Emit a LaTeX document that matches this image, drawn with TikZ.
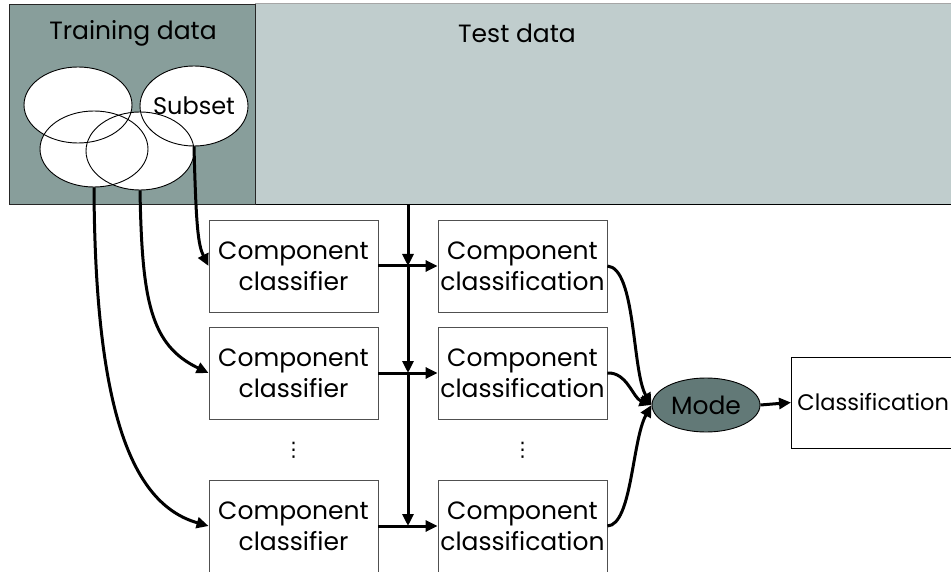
\documentclass[tikz,border=0pt]{standalone}
\usepackage{fontspec}
\setmainfont{Poppins}
\newfontfamily\symfont{DejaVu Sans}
\usetikzlibrary{arrows.meta,shapes.geometric,calc}
\definecolor{traincol}{RGB}{136,158,155}
\definecolor{testcol}{RGB}{192,205,205}
\definecolor{modecol}{RGB}{98,121,119}
\definecolor{edgegray}{RGB}{80,80,80}

\begin{document}
\begin{tikzpicture}[x=1pt,y=-1pt,
  lbl/.style={font=\fontsize{25}{31}\selectfont, text=black},
  box/.style={draw=edgegray, line width=0.9pt, fill=white, minimum width=169pt,
    minimum height=92pt, align=center, inner sep=0pt, lbl},
  blob/.style={ellipse, draw=black, line width=0.9pt, inner sep=0pt},
  flow/.style={line width=3pt, -{Triangle[length=12pt,width=11pt]}},
  dotsym/.style={font=\symfont\fontsize{20}{20}\selectfont},
]
\useasboundingbox (0,0) rectangle (951,572);

% data regions
\node[fill=testcol, draw=none, minimum width=705pt, minimum height=200pt,
      anchor=north west, inner sep=0pt] (test) at (255,4) {};
\draw[gray!70, line width=1pt] (test.north west) -- (test.north east);
\draw[black, line width=1.3pt] (test.south west) -- (test.south east);
\node[fill=traincol, draw=black!85, line width=1.3pt, minimum width=246pt,
      minimum height=200pt, anchor=north west, inner sep=0pt] (train) at (9,4) {};
\node[lbl] (traintitle) at (133,33) {Training data};
\node[lbl] (testtitle) at (517,33) {Test data};

% bootstrap subsets: white fills first, outlines on top
\fill[white] (78,105) ellipse [x radius=54, y radius=38];
\fill[white] (194,106) ellipse [x radius=54, y radius=40];
\fill[white] (94,149) ellipse [x radius=54, y radius=38];
\fill[white] (140,151) ellipse [x radius=54, y radius=39];
\node[blob, minimum width=108pt, minimum height=76pt] (e1) at (78,105) {};
\node[blob, minimum width=108pt, minimum height=80pt] (e2) at (194,106) {};
\node[blob, minimum width=108pt, minimum height=76pt] (e3) at (94,149) {};
\node[blob, minimum width=108pt, minimum height=78pt] (e4) at (140,151) {};
\node[lbl, font=\fontsize{24}{30}\selectfont] (subset) at (e2.center) {Subset};

% component classifiers and their outputs
\node[box] (c1) at (293.5,266) {Component\\classifier};
\node[box] (c2) at (293.5,373) {Component\\classifier};
\node[box] (c3) at (293.5,526) {Component\\classifier};
\node[box] (d1) at (522.5,266) {Component\\classification};
\node[box] (d2) at (522.5,373) {Component\\classification};
\node[box] (d3) at (522.5,526) {Component\\classification};
\node[dotsym] (v1) at (293.5,450) {⋮};
\node[dotsym] (v2) at (522.5,450) {⋮};

% voting and final result
\node[ellipse, fill=modecol, draw=black, line width=0.9pt, minimum width=108pt,
      minimum height=54pt, inner sep=0pt, lbl] (mode) at (706,405) {Mode};
\node[draw=black, line width=0.9pt, fill=white, minimum height=91pt, anchor=west,
      text width=200pt, align=left, inner xsep=6pt, lbl,
      font=\fontsize{22.5}{28}\selectfont] (cls) at (791,402.5) {Classification};

% test data feed
\coordinate (tap) at (408,204);
\coordinate (j1) at (tap |- c1.east);
\coordinate (j2) at (tap |- c2.east);
\coordinate (j3) at (tap |- c3.east);
\draw[flow] (tap) -- (j1);
\draw[flow] (j1) -- (j2);
\draw[flow] (j2) -- (j3);
\draw[flow] (c1.east) -- (d1.west);
\draw[flow] (c2.east) -- (d2.west);
\draw[flow] (c3.east) -- (d3.west);

% training subsets to classifiers
\draw[flow] (e2.south) .. controls (196,225) and (198,245) .. (c1.west);
\draw[flow] (e4.south) .. controls (142,300) and (150,345) .. (c2.west);
\draw[flow] (e3.south) .. controls (95,420) and (135,505) .. (c3.west);

% classifications to the vote
\draw[flow] (d1.east) .. controls (636,268) and (632,372) .. (mode.west);
\draw[flow] (d2.east) .. controls (627,372) and (633,398) .. (mode.west);
\draw[flow] (d3.east) .. controls (632,525) and (632,440) .. (mode.west);
\draw[flow] (mode.east) -- (cls.west);
\end{tikzpicture}
\end{document}
